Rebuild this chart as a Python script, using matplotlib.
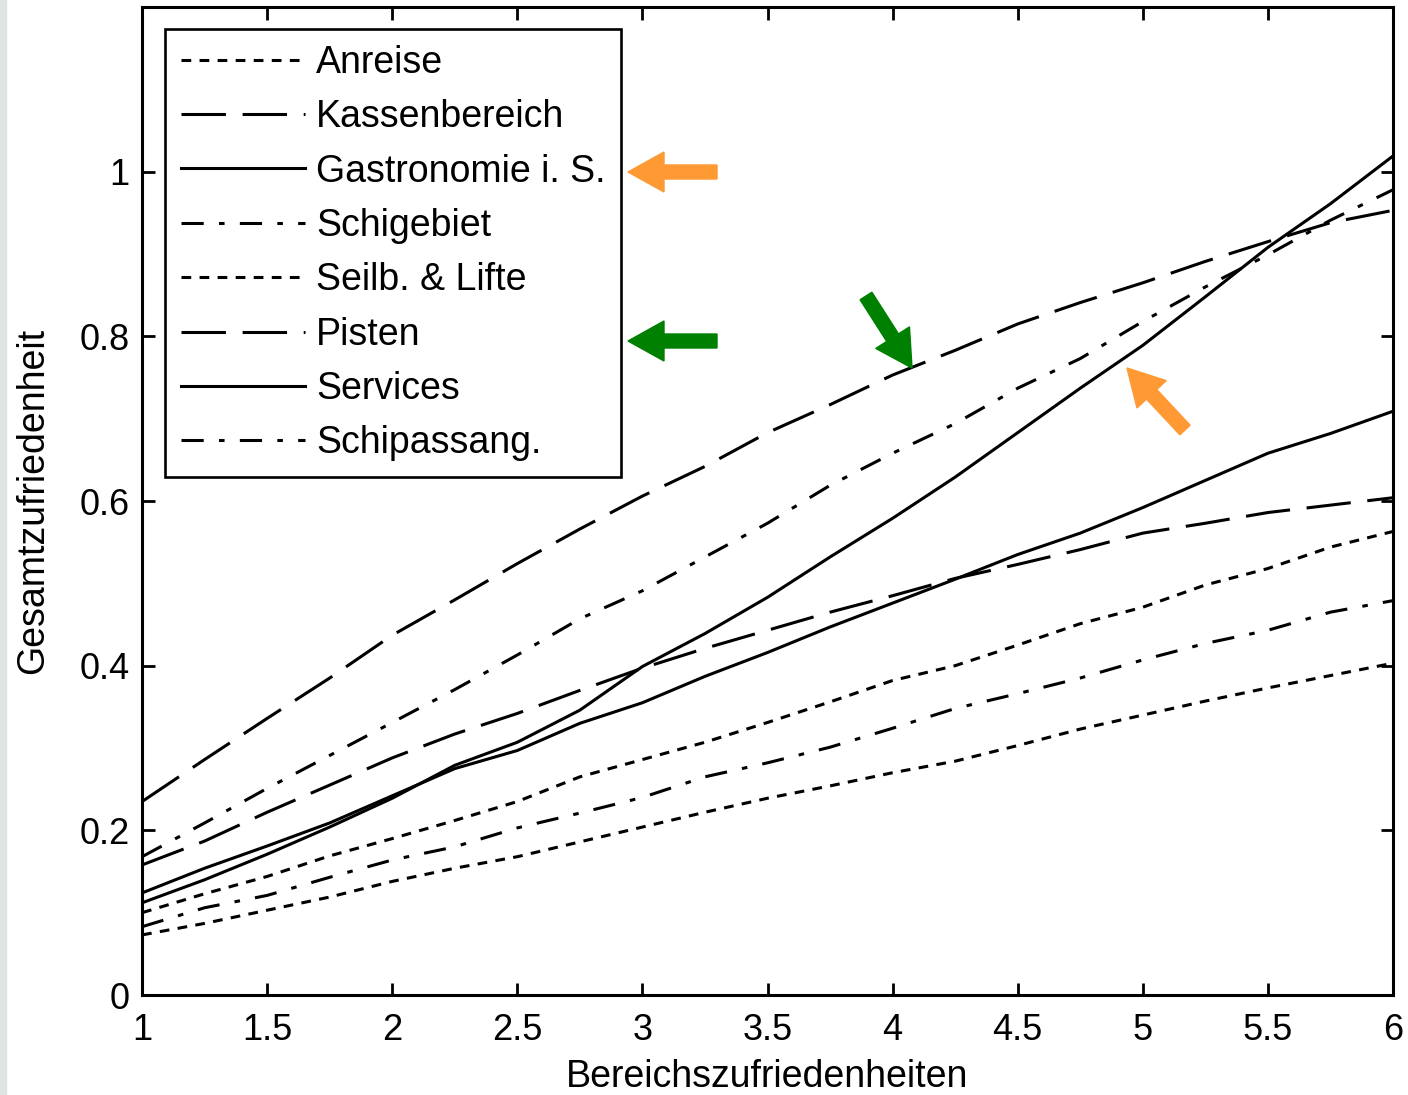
import numpy as np
import matplotlib.pyplot as plt
from matplotlib.patches import FancyArrow, Rectangle

# x grid of the curves
x = [1.0, 1.25, 1.5, 1.75, 2.0, 2.25, 2.5, 2.75, 3.0, 3.25, 3.5,
     3.75, 4.0, 4.25, 4.5, 4.75, 5.0, 5.25, 5.5, 5.75, 6.0]

anreise = [0.073, 0.087, 0.103, 0.119, 0.138, 0.154, 0.168, 0.186, 0.204, 0.222, 0.239,
           0.254, 0.270, 0.284, 0.303, 0.323, 0.340, 0.357, 0.373, 0.388, 0.403]
kassenbereich = [0.158, 0.187, 0.222, 0.255, 0.288, 0.317, 0.342, 0.370, 0.397, 0.421, 0.443,
                 0.465, 0.485, 0.506, 0.523, 0.541, 0.561, 0.573, 0.586, 0.595, 0.604]
gastronomie = [0.112, 0.140, 0.171, 0.204, 0.239, 0.279, 0.307, 0.346, 0.399, 0.439, 0.483,
               0.532, 0.579, 0.629, 0.683, 0.737, 0.789, 0.848, 0.908, 0.961, 1.019]
schigebiet = [0.168, 0.209, 0.251, 0.291, 0.331, 0.371, 0.413, 0.457, 0.491, 0.532, 0.573,
              0.619, 0.658, 0.694, 0.737, 0.773, 0.818, 0.860, 0.899, 0.941, 0.978]
seilbahnen = [0.100, 0.123, 0.144, 0.169, 0.190, 0.212, 0.235, 0.265, 0.286, 0.307, 0.331,
              0.356, 0.382, 0.400, 0.425, 0.451, 0.471, 0.498, 0.518, 0.544, 0.563]
pisten = [0.235, 0.286, 0.336, 0.385, 0.437, 0.480, 0.524, 0.566, 0.606, 0.642, 0.683,
          0.717, 0.753, 0.783, 0.815, 0.841, 0.865, 0.891, 0.915, 0.938, 0.953]
services = [0.124, 0.154, 0.181, 0.209, 0.242, 0.275, 0.297, 0.330, 0.355, 0.387, 0.416,
            0.447, 0.476, 0.505, 0.535, 0.561, 0.592, 0.625, 0.658, 0.682, 0.709]
schipass = [0.083, 0.106, 0.121, 0.143, 0.164, 0.180, 0.203, 0.221, 0.240, 0.265, 0.282,
            0.301, 0.324, 0.348, 0.366, 0.385, 0.407, 0.427, 0.443, 0.465, 0.479]

labels = ['Anreise', 'Kassenbereich', 'Gastronomie i. S.', 'Schigebiet',
          'Seilb. & Lifte', 'Pisten', 'Services', 'Schipassang.']
series = [anreise, kassenbereich, gastronomie, schigebiet,
          seilbahnen, pisten, services, schipass]
xticks = [1, 1.5, 2, 2.5, 3, 3.5, 4, 4.5, 5, 5.5, 6]
yticks = [0, 0.2, 0.4, 0.6, 0.8, 1]

plt.rcParams['font.family'] = ['Liberation Sans', 'DejaVu Sans']
plt.rcParams['lines.scale_dashes'] = False

dotted = (0, (7, 6))
longdash = (0, (32, 12))
dashdot = (0, (16, 11, 4, 11))
styles = [dotted, longdash, '-', dashdot, dotted, longdash, '-', dashdot]

fig = plt.figure(figsize=(14.08, 10.95), dpi=100)
ax = fig.add_axes([0.1009, 0.0913, 0.8884, 0.9023])

for y, lab, ls in zip(series, labels, styles):
    ax.plot(x, y, color='black', linestyle=ls, linewidth=2.2, label=lab)

ax.set_xlim(1, 6)
ax.set_ylim(0, 1.2)
ax.set_xticks(xticks)
ax.set_xticklabels(['1', '1.5', '2', '2.5', '3', '3.5', '4', '4.5', '5', '5.5', '6'])
ax.set_yticks(yticks)
ax.set_yticklabels(['0', '0.2', '0.4', '0.6', '0.8', '1'])
ax.tick_params(direction='in', top=True, right=True, length=9, width=2,
               labelsize=26, pad=9)
ax.tick_params(axis='x', pad=13)
for s in ax.spines.values():
    s.set_linewidth(2.2)
ax.set_xlabel('Bereichszufriedenheiten', fontsize=27, labelpad=8)
ax.set_ylabel('Gesamtzufriedenheit', fontsize=27, labelpad=20)

leg = ax.legend(loc='upper left', bbox_to_anchor=(0.0184, 0.9777), borderaxespad=0,
                fontsize=27, handlelength=3.3, handletextpad=0.3, labelspacing=0.49,
                borderpad=0.42, fancybox=False, framealpha=1)
leg.get_frame().set_edgecolor('black')
leg.get_frame().set_linewidth(1.9)

# highlight arrows (figure pixels / 100 = inches)
orange = '#ff9933'
green = '#008000'
H = 10.95
def arrow(x0, y0, x1, y1, c):
    a = FancyArrow(x0 / 100, H - y0 / 100, (x1 - x0) / 100, -(y1 - y0) / 100,
                   width=0.14, head_width=0.40, head_length=0.36,
                   length_includes_head=True, color=c, transform=fig.dpi_scale_trans)
    fig.add_artist(a)

arrow(717, 172, 628, 172, orange)
arrow(717, 341, 628, 341, green)
arrow(866, 296, 912, 368, green)
arrow(1185, 430, 1127, 368, orange)

fig.add_artist(Rectangle((0, 0), 0.06, H, color='#dde6e4', transform=fig.dpi_scale_trans))

fig.savefig('out.png', dpi=100)
